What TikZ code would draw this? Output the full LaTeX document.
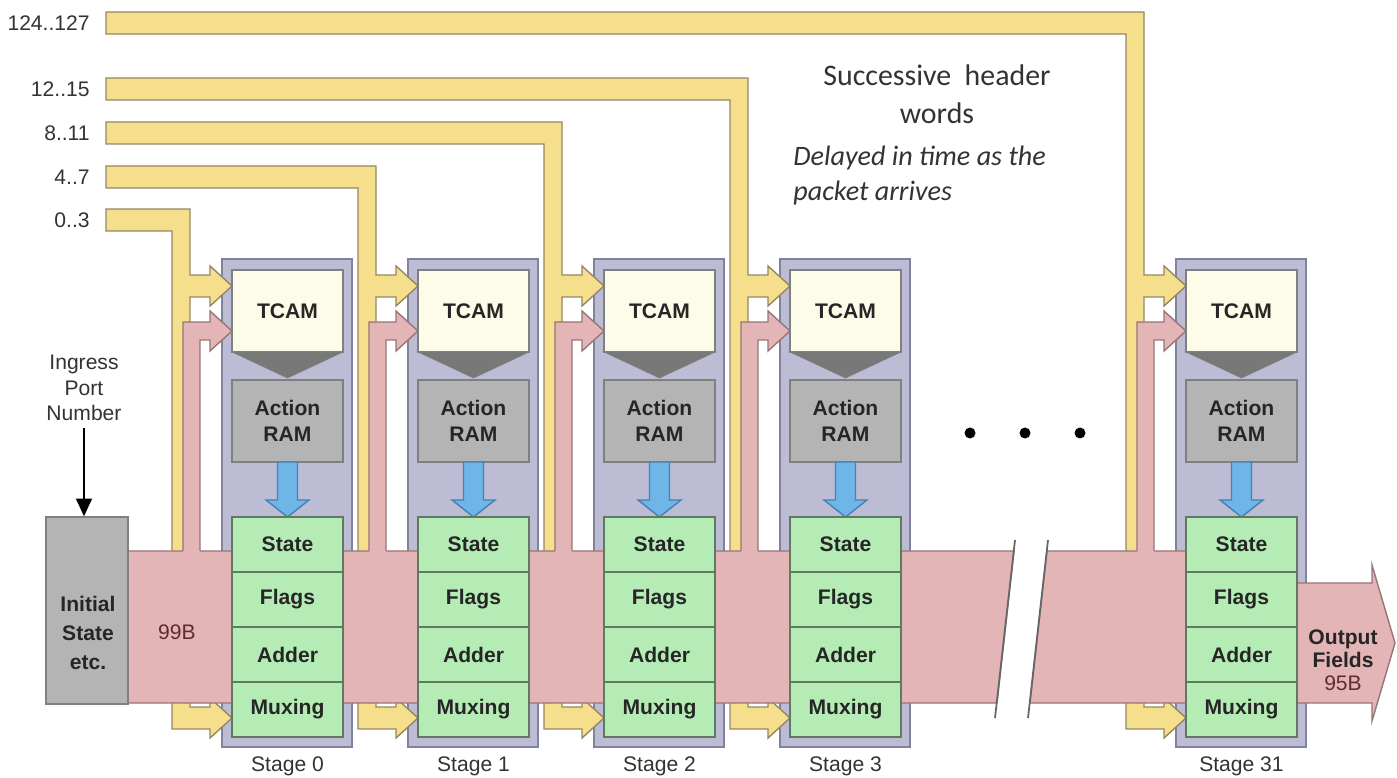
\documentclass[tikz,border=0pt,12pt]{standalone}
\usepackage{fontspec}
\setmainfont{Liberation Sans}
\newfontfamily\notefont{Carlito}
\usetikzlibrary{arrows.meta}

\definecolor{wordyellow}{RGB}{245,223,140}
\definecolor{wordedge}{RGB}{150,135,100}
\definecolor{buspink}{RGB}{228,181,183}
\definecolor{busedge}{RGB}{150,118,118}
\definecolor{stagepurple}{RGB}{188,188,212}
\definecolor{stageedge}{RGB}{130,130,158}
\definecolor{tcamcream}{RGB}{252,252,232}
\definecolor{ramgray}{RGB}{180,180,180}
\definecolor{matchgray}{RGB}{120,120,120}
\definecolor{fieldgreen}{RGB}{181,236,181}
\definecolor{fieldedge}{RGB}{95,122,95}
\definecolor{actionblue}{RGB}{110,182,232}
\definecolor{actionedge}{RGB}{70,128,180}
\definecolor{bytered}{RGB}{95,45,45}

\begin{document}
\begin{tikzpicture}[x=0.2mm, y=-0.2mm,
    word/.style={fill=wordyellow, draw=wordedge, line width=0.8pt},
    bus/.style={fill=buspink, draw=busedge, line width=0.8pt},
    stageframe/.style={fill=stagepurple, draw=stageedge, line width=1pt},
    unit/.style={draw=gray, line width=0.8pt, minimum width=22.2mm, inner sep=0pt, font=\bfseries, text=black!85, align=center},
    tcam/.style={unit, fill=tcamcream, minimum height=16.4mm},
    ram/.style={unit, fill=ramgray, minimum height=16.4mm},
    field/.style={unit, fill=fieldgreen, draw=fieldedge, minimum height=11mm},
    breakline/.style={draw=gray!80!black, line width=1pt},
    dot/.style={circle, fill=black, inner sep=0pt, minimum size=2.2mm}]

    \fill[white] (0,0) rectangle (1397,778);
    \useasboundingbox (0,0) rectangle (1397,778);

    % stage frames and header word feeds
    \foreach \F/\T/\w/\s in {222/209/{0..3}/0, 408/166/{4..7}/1, 594/122/{8..11}/2, 780/78/{12..15}/3, 1176/12/{124..127}/31} {
        \draw[stageframe] (\F,259) rectangle ({\F+130},747);
        \filldraw[word] (106,\T) -- ({\F-32},\T) -- ({\F-32},275) -- ({\F-12},275) -- ({\F-12},266) -- ({\F+10},286)
            -- ({\F-12},306) -- ({\F-12},297) -- ({\F-32},297) -- ({\F-32},707) -- ({\F-12},707) -- ({\F-12},698)
            -- ({\F+10},718) -- ({\F-12},738) -- ({\F-12},729) -- ({\F-50},729) -- ({\F-50},{\T+22}) -- (106,{\T+22}) -- cycle;
        \node[anchor=east, text=black!80] (w\s) at (97,{\T+11}) {\w};
    }

    % 99B of state flowing through the stages
    \filldraw[bus] (128,551) -- (1014,551) -- (997,703) -- (128,703) -- cycle;
    \filldraw[bus] (1047,551) -- (1297,551) -- (1297,583) -- (1372,583) -- (1372,565) -- (1395,643)
        -- (1372,721) -- (1372,703) -- (1030,703) -- cycle;
    \draw[breakline] (1015,540) -- (995,718);
    \draw[breakline] (1048,540) -- (1028,718);

    % stages
    \foreach \F/\s in {222/0, 408/1, 594/2, 780/3, 1176/31} {
        \fill[buspink] ({\F-39},552) -- ({\F-39},322) -- ({\F-12},322) -- ({\F-12},311) -- ({\F+10},331)
            -- ({\F-12},351) -- ({\F-12},340) -- ({\F-22},340) -- ({\F-22},552) -- cycle;
        \draw[busedge, line width=0.8pt] ({\F-39},551) -- ({\F-39},322) -- ({\F-12},322) -- ({\F-12},311) -- ({\F+10},331)
            -- ({\F-12},351) -- ({\F-12},340) -- ({\F-22},340) -- ({\F-22},551);
        \begin{scope}[shift={(\F,0)}]
            \node[tcam] (tcam\s) at (65.5,311) {TCAM};
            \filldraw[fill=matchgray, draw=gray] (10,352) -- (121,352) -- (65.5,378) -- cycle;
            \node[ram] (ram\s) at (65.5,421) {Action\\RAM};
            \filldraw[fill=actionblue, draw=actionedge, line width=0.8pt] (55.5,462) -- (75.5,462) -- (75.5,500)
                -- (87,500) -- (65.5,517) -- (44,500) -- (55.5,500) -- cycle;
            \node[field] (state\s) at (65.5,544.5) {State};
            \node[field] (flags\s) at (65.5,599.5) {Flags};
            \node[field] (adder\s) at (65.5,654.5) {Adder};
            \node[field] (mux\s) at (65.5,709.5) {Muxing};
            \node[text=black!80] (stage\s) at (65.5,766) {Stage \s};
        \end{scope}
    }

    % input side
    \node[fill=ramgray, draw=gray, line width=0.8pt, minimum width=16.4mm, minimum height=37.4mm] (init) at (87,610.5) {};
    \node[font=\bfseries, align=center, text=black!85] (initlbl) at (88,633) {Initial\\[2pt]State\\[2pt]etc.};
    \node[align=center, text=black!80] (ingress) at (84,388) {Ingress\\Port\\Number};
    \draw[line width=0.9pt, -{Triangle[width=9pt,length=10pt]}] (ingress.south) -- (ingress.south |- init.north);
    \node[text=bytered] (inbytes) at (177,632) {99B};

    % output side
    \node[align=center, text=black!85] (outlbl) at (1343,660) {\textbf{Output}\\[-1.5pt]\textbf{Fields}\\[-1.5pt]\textcolor{bytered}{95B}};

    % more stages
    \node[dot] (dotA) at (970,433) {};
    \node[dot] (dotB) at (1025,433) {};
    \node[dot] (dotC) at (1080,433) {};

    % notes
    \node[align=center, text=black!80, font=\notefont\fontsize{17}{21.5}\selectfont] (hdrnote) at (937,94) {Successive\ \ header\\words};
    \node[anchor=west, align=left, text=black!80, font=\notefont\itshape\fontsize{16}{20}\selectfont] (delaynote) at (786,175.5) {Delayed in time as the\\packet arrives};
\end{tikzpicture}
\end{document}
